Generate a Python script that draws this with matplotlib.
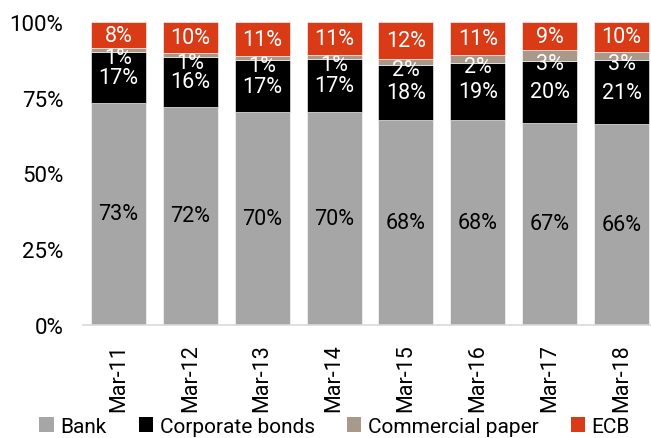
import matplotlib
matplotlib.use("Agg")
import matplotlib.pyplot as plt
import numpy as np

plt.rcParams['font.family'] = ['Roboto', 'DejaVu Sans']

categories = ["Mar-11", "Mar-12", "Mar-13", "Mar-14", "Mar-15", "Mar-16", "Mar-17", "Mar-18"]
bank = [73.4, 72.1, 70.2, 70.4, 67.6, 67.8, 66.8, 66.3]
corporate_bonds = [16.7, 16.4, 17.1, 17.4, 18.2, 18.8, 20.4, 21.1]
commercial_paper = [1.4, 1.4, 1.4, 1.3, 1.9, 2.4, 3.4, 2.8]
ecb = [8.4, 10.1, 11.3, 10.9, 12.3, 11.0, 9.4, 9.8]
y_ticks = [0, 25, 50, 75, 100]
y_tick_labels = ["0%", "25%", "50%", "75%", "100%"]

series = [
    ("Bank", bank, "#A6A6A6", "black", 0),
    ("Corporate bonds", corporate_bonds, "#000000", "white", 0),
    ("Commercial paper", commercial_paper, "#A8998A", "white", -5.5),
    ("ECB", ecb, "#D83B16", "white", 0),
]

W, H = 651, 439
fig = plt.figure(figsize=(W / 100, H / 100), dpi=100)
ax = fig.add_axes([83 / W, (439 - 326) / H, (651 - 83) / W, (326 - 23) / H])

x = np.arange(len(categories))
bottom = np.zeros(len(categories))
fs = 15.5
for name, vals, color, tcolor, off in series:
    vals = np.array(vals)
    ax.bar(x, vals, 0.766, bottom=bottom, color=color, label=name,
           edgecolor="white", linewidth=0.4)
    for xi, b, v in zip(x, bottom, vals):
        ax.annotate(f"{v:.0f}%", (xi, b + v / 2), xytext=(0, off), textcoords="offset points",
                    ha="center", va="center", color=tcolor, fontsize=fs)
    bottom += vals

ax.set_xlim(-0.494, 7.41)
ax.set_ylim(0, 100)
ax.set_yticks(y_ticks)
ax.set_yticklabels(y_tick_labels, fontsize=fs + 0.5)
ax.set_xticks(x)
ax.set_xticklabels(categories, rotation=90, fontsize=fs)
ax.tick_params(axis="both", length=0)
ax.tick_params(axis="x", pad=13)
ax.tick_params(axis="y", pad=14)
for s in ["top", "right", "left"]:
    ax.spines[s].set_visible(False)
ax.spines["bottom"].set_color("#D9D9D9")
ax.spines["bottom"].set_linewidth(1.2)

handles, labels = ax.get_legend_handles_labels()
leg = fig.legend(handles, labels, loc="lower left", bbox_to_anchor=(31 / W, -6 / H), ncol=4,
                 frameon=False, fontsize=15, handlelength=0.7, handleheight=0.7,
                 handletextpad=0.3, columnspacing=1.55, borderaxespad=0)
for h in leg.legend_handles:
    h.set_edgecolor("none")

fig.savefig("out.png", dpi=100)
